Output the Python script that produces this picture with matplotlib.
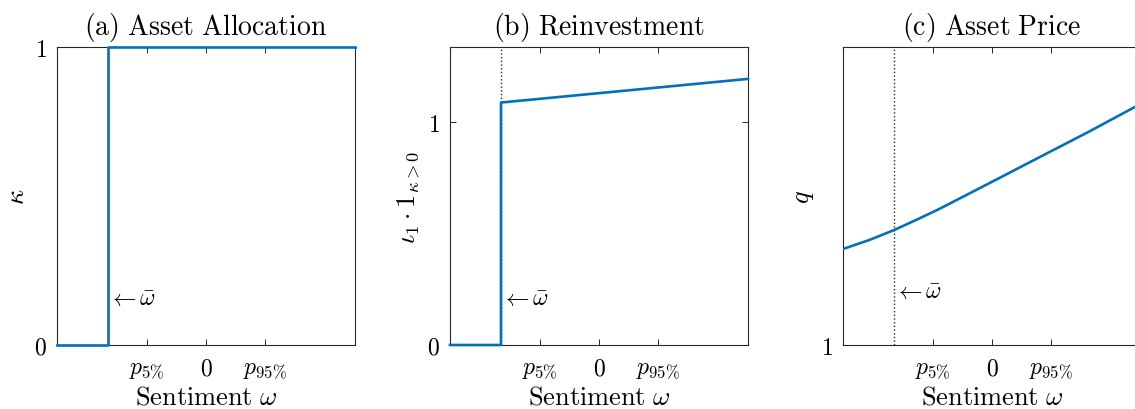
import matplotlib
matplotlib.use('Agg')
import matplotlib.pyplot as plt
import numpy as np

plt.rcParams['mathtext.fontset'] = 'cm'
plt.rcParams['font.family'] = 'serif'
plt.rcParams['font.serif'] = ['cmr10', 'DejaVu Serif']
plt.rcParams['axes.formatter.use_mathtext'] = True

blue = '#0072BD'
dark = '#262626'

# sentiment axis: symmetric, threshold and percentile ticks
omega_lim = 4.15
omega_bar = -2.73
tick_pos = [-1.645, 0.0, 1.645]
tick_labels = [r'$p_{5\%}$', r'$0$', r'$p_{95\%}$']

# (a) asset allocation kappa
kappa_x = [-4.15, -2.73, -2.73, 4.15]
kappa_y = [0.0, 0.0, 1.0, 1.0]

# (b) reinvestment
reinv_x = [-4.15, -2.73, -2.73, 4.15]
reinv_y = [0.0, 0.0, 1.087, 1.193]

# (c) asset price q
price_x = [-4.15, -3.418, -2.724, -2.028, -1.471, -0.075, 1.317, 2.710, 3.963, 4.15]
price_y = [1.1933, 1.2114, 1.2315, 1.2547, 1.2738, 1.3258, 1.3779, 1.4299, 1.4786, 1.4852]

fig = plt.figure(figsize=(11.35, 4.10), dpi=100)
W, H = 1135, 410
lefts = [57, 450, 843]
axes = [fig.add_axes([l / W, (H - 346) / H, 298 / W, 298 / H]) for l in lefts]

titles = [r'$\mathrm{(a)\ Asset\ Allocation}$',
          r'$\mathrm{(b)\ Reinvestment}$',
          r'$\mathrm{(c)\ Asset\ Price}$']
ylabels = [r'$\kappa$', r'$\iota_1 \cdot \mathbf{1}_{\kappa>0}$', r'$q$']

for ax, t, yl in zip(axes, titles, ylabels):
    ax.set_xlim(-omega_lim, omega_lim)
    ax.set_xticks(tick_pos)
    ax.set_xticklabels(tick_labels, fontsize=17)
    ax.set_title(t, fontsize=20, pad=9.5)
    ax.set_ylabel(yl, fontsize=19, labelpad=4)
    ax.set_xlabel(r'$\mathrm{Sentiment}\ \omega$', fontsize=19, labelpad=4)
    ax.tick_params(direction='in', top=True, right=True, length=4,
                   width=0.7, color=dark, labelsize=17)
    ax.tick_params(axis='x', pad=9)
    ax.tick_params(axis='y', pad=7)
    for s in ax.spines.values():
        s.set_color(dark)
        s.set_linewidth(0.8)

# (a)
ax = axes[0]
ax.set_ylim(0, 1)
ax.set_yticks([0, 1])
ax.set_yticklabels([r'$0$', r'$1$'])
ax.axvline(omega_bar, color=dark, ls=':', lw=1)
ax.plot(kappa_x, kappa_y, color=blue, lw=1.9, clip_on=False, zorder=3)
ax.text(omega_bar, 0.154, r'$\leftarrow \bar{\omega}$', fontsize=17,
        va='center', ha='left')

# (b)
ax = axes[1]
ax.set_ylim(0, 1.336)
ax.set_yticks([0, 1])
ax.set_yticklabels([r'$0$', r'$1$'])
ax.axvline(omega_bar, color=dark, ls=':', lw=1)
ax.plot(reinv_x, reinv_y, color=blue, lw=1.9, clip_on=False, zorder=3)
ax.text(omega_bar, 0.206, r'$\leftarrow \bar{\omega}$', fontsize=17,
        va='center', ha='left')

# (c)
ax = axes[2]
ax.set_ylim(1, 1.6)
ax.set_yticks([1])
ax.set_yticklabels([r'$1$'])
ax.axvline(omega_bar, color=dark, ls=':', lw=1)
ax.plot(price_x, price_y, color=blue, lw=1.9, zorder=3)
ax.text(omega_bar, 1.107, r'$\leftarrow \bar{\omega}$', fontsize=17,
        va='center', ha='left')

fig.savefig('out.png', dpi=100)
